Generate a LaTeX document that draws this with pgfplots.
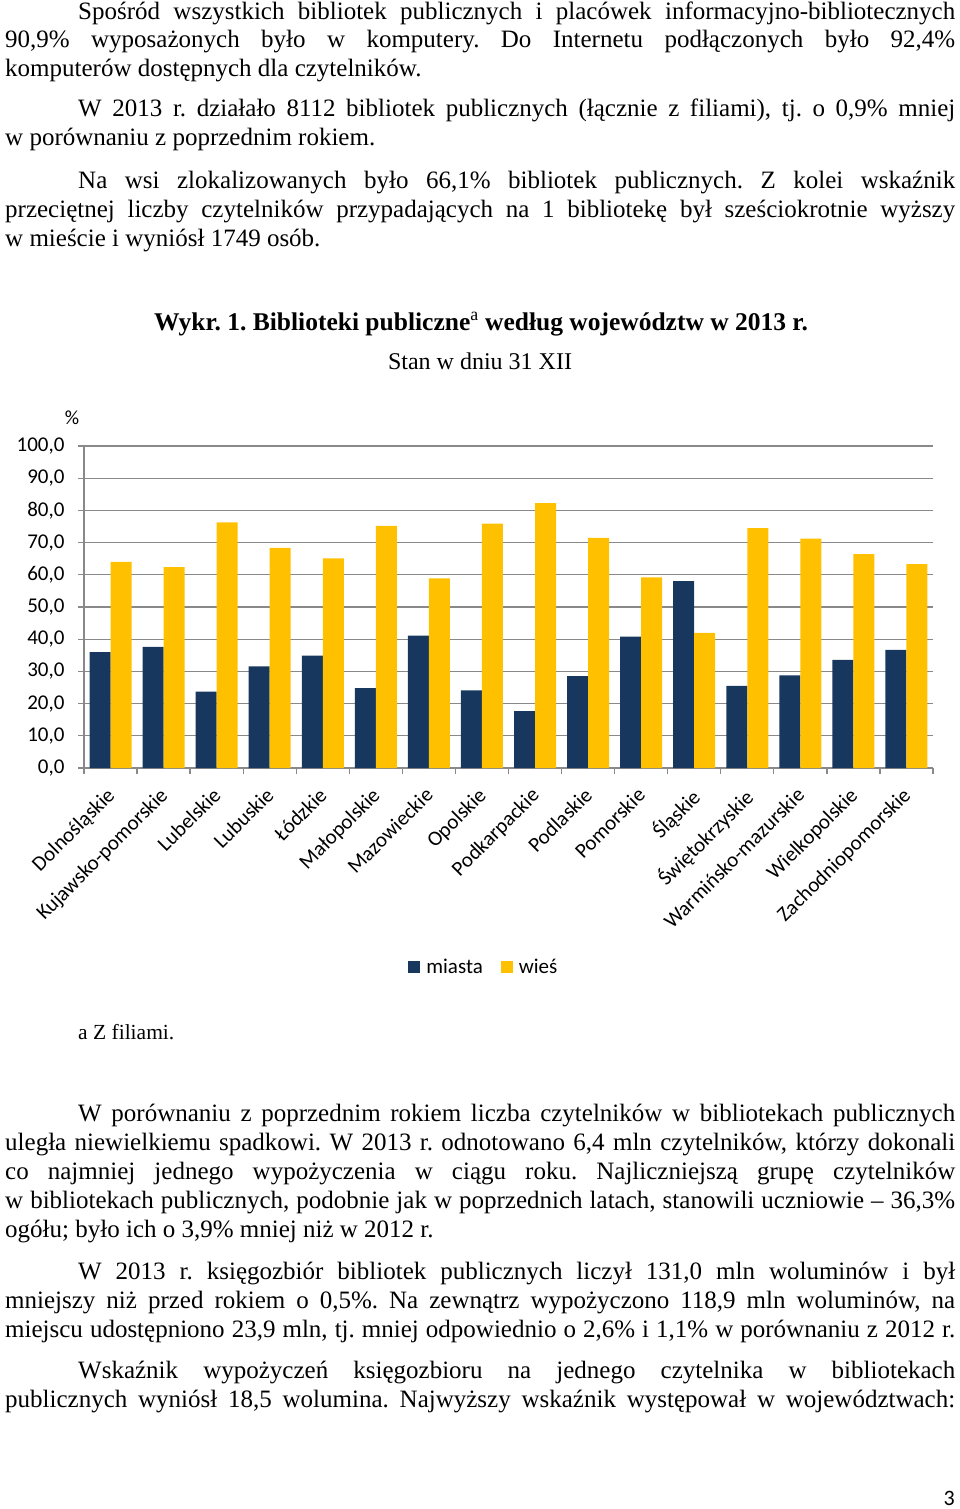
\documentclass[border=0pt]{standalone}
\usepackage{fontspec}
\setmainfont{Liberation Serif}
\newfontfamily\carlito{Carlito}
\usepackage{pgfplots}
\usepackage{pgfplotstable}
\pgfplotsset{compat=1.18}
\definecolor{navy}{HTML}{17375E}
\definecolor{gold}{HTML}{FFC000}
\definecolor{gridg}{HTML}{898989}
\frenchspacing

\newcommand{\bodyfont}{\fontsize{25pt}{29pt}\selectfont}
\newcommand{\full}[2]{\node[anchor=base west,inner sep=0pt,font=\bodyfont] at (5pt,-#1pt) {\makebox[950pt][s]{#2}};}
\newcommand{\ind}[2]{\node[anchor=base west,inner sep=0pt,font=\bodyfont] at (78pt,-#1pt) {\makebox[877pt][s]{#2}};}
\newcommand{\lst}[2]{\node[anchor=base west,inner sep=0pt,font=\bodyfont] at (5pt,-#1pt) {#2};}

\pgfplotstableread{
x miasta wies
0 36.0 64.0
1 37.6 62.4
2 23.7 76.3
3 31.6 68.4
4 34.9 65.1
5 24.8 75.2
6 41.1 58.9
7 24.1 75.9
8 17.7 82.3
9 28.5 71.5
10 40.8 59.2
11 58.0 42.0
12 25.5 74.5
13 28.8 71.2
14 33.6 66.4
15 36.7 63.3
}\datatable

\begin{document}
\begin{tikzpicture}
\useasboundingbox (0pt,0pt) rectangle (960pt,-1509pt);
% paragraph 1
\ind{19.5}{Spośród wszystkich bibliotek publicznych i placówek informacyjno-bibliotecznych}
\full{47.5}{90,9\% wyposażonych było w komputery. Do Internetu podłączonych było 92,4\%}
\lst{76.5}{komputerów dostępnych dla czytelników.}
% paragraph 2
\ind{117}{W 2013 r. działało 8112 bibliotek publicznych (łącznie z filiami), tj. o 0,9\% mniej}
\lst{146}{w porównaniu z poprzednim rokiem.}
% paragraph 3
\ind{188}{Na wsi zlokalizowanych było 66,1\% bibliotek publicznych. Z kolei wskaźnik}
\full{217}{przeciętnej liczby czytelników przypadających na 1 bibliotekę był sześciokrotnie wyższy}
\lst{246}{w mieście i wyniósł 1749 osób.}
% title
\node[anchor=base,inner sep=0pt,font=\fontsize{25.5pt}{29pt}\selectfont] at (481pt,-330pt) {\textbf{Wykr. 1. Biblioteki publiczne}\textsuperscript{a}\textbf{ według województw w 2013 r.}};
\node[anchor=base,inner sep=0pt,font=\fontsize{24pt}{29pt}\selectfont] at (480pt,-369pt) {Stan w dniu 31 XII};
\node[anchor=center,inner sep=0pt,font=\carlito\fontsize{20pt}{24pt}\selectfont] at (72pt,-418pt) {\%};

\begin{axis}[
  at={(84pt,-768pt)}, anchor=south west,
  scale only axis, width=849pt, height=322pt,
  xmin=-0.5, xmax=15.5, ymin=0, ymax=100,
  ybar=0pt, bar width=21pt,
  axis lines*=left,
  axis line style={gridg, line width=1.3pt},
  tick align=outside,
  major tick length=6pt,
  tick style={gridg, line width=1.3pt},
  ytick={0,10,...,100},
  yticklabels={{0,0},{10,0},{20,0},{30,0},{40,0},{50,0},{60,0},{70,0},{80,0},{90,0},{100,0}},
  ymajorgrids, grid style={gridg, line width=1.3pt},
  yticklabel style={font=\carlito\fontsize{21pt}{24pt}\selectfont, text=black, xshift=-10pt},
  xtick={-0.5,0.5,...,15.5},
  xticklabels={},
  extra x ticks={0,...,15},
  extra x tick style={major tick length=0pt},
  extra x tick labels={Dolnośląskie,Kujawsko-pomorskie,Lubelskie,Lubuskie,Łódzkie,Małopolskie,Mazowieckie,Opolskie,Podkarpackie,Podlaskie,Pomorskie,Śląskie,Świętokrzyskie,Warmińsko-mazurskie,Wielkopolskie,Zachodniopomorskie},
  xticklabel style={font=\carlito\fontsize{21pt}{24pt}\selectfont, text=black, xshift=-5pt, yshift=-18pt, rotate=45, anchor=north east, inner sep=0pt},
  legend style={at={(0.471,-0.618)}, anchor=center, draw=none, legend columns=2,
     font=\carlito\fontsize{21pt}{24pt}\selectfont,
     /tikz/every odd column/.append style={column sep=4pt},
     /tikz/every even column/.append style={column sep=16pt}},
  legend image code/.code={\fill[#1] (0pt,-6pt) rectangle (12pt,6pt);},
]
\addplot[fill=navy, draw=none] table[x=x,y=miasta]{\datatable};
\addplot[fill=gold, draw=none] table[x=x,y=wies]{\datatable};
\legend{miasta,wieś}
\end{axis}

\node[anchor=base west,inner sep=0pt,font=\fontsize{21.5pt}{29pt}\selectfont] at (78pt,-1039pt) {a Z filiami.};
% paragraph 4
\ind{1121}{W porównaniu z poprzednim rokiem liczba czytelników w bibliotekach publicznych}
\full{1150}{uległa niewielkiemu spadkowi. W 2013 r. odnotowano 6,4 mln czytelników, którzy dokonali}
\full{1179}{co najmniej jednego wypożyczenia w ciągu roku. Najliczniejszą grupę czytelników}
\full{1208}{w bibliotekach publicznych, podobnie jak w poprzednich latach, stanowili uczniowie – 36,3\%}
\lst{1237}{ogółu; było ich o 3,9\% mniej niż w 2012 r.}
% paragraph 5
\ind{1279}{W 2013 r. księgozbiór bibliotek publicznych liczył 131,0 mln woluminów i był}
\full{1308}{mniejszy niż przed rokiem o 0,5\%. Na zewnątrz wypożyczono 118,9 mln woluminów, na}
\full{1337}{miejscu udostępniono 23,9 mln, tj. mniej odpowiednio o 2,6\% i 1,1\% w porównaniu z 2012 r.}
% paragraph 6
\ind{1378}{Wskaźnik wypożyczeń księgozbioru na jednego czytelnika w bibliotekach}
\full{1407}{publicznych wyniósł 18,5 wolumina. Najwyższy wskaźnik występował w województwach:}
\node[anchor=base east,inner sep=0pt,font=\carlito\fontsize{22pt}{26pt}\selectfont] at (955pt,-1505pt) {3};
\end{tikzpicture}
\end{document}
